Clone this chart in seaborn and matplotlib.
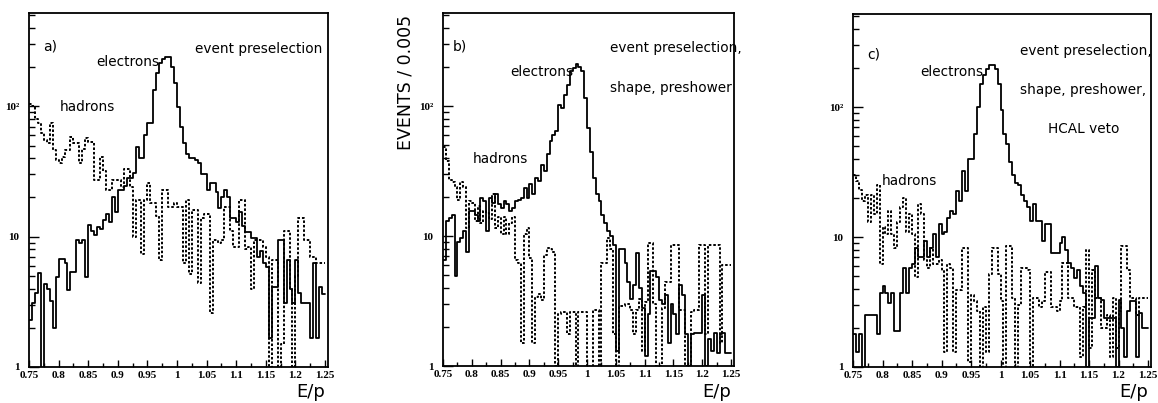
import numpy as np
import matplotlib
matplotlib.use("Agg")
import matplotlib.pyplot as plt
import seaborn as sns
from matplotlib.ticker import FixedLocator, LogLocator, NullFormatter

# E/p histograms, 100 bins of 0.005 between 0.75 and 1.25
ep_lo, ep_hi, n_bins = 0.75, 1.25, 100

ele_a = [2.3, 3.1, 3.7, 5.3, 0, 4.3, 4.0, 3.2, 2.0, 4.9,
         6.7, 6.7, 6.3, 3.9, 5.4, 5.4, 9.4, 9.0, 9.4, 4.9,
         12.3, 11, 10.3, 11.8, 11.5, 13.4, 15, 13, 20, 15.5,
         22.7, 22.7, 24.5, 28, 28, 31, 48.5, 40, 40, 60,
         75, 75, 133, 180, 215, 232, 237, 237, 200, 150,
         98, 70, 52, 43, 40, 40, 38.5, 37, 30, 30,
         23, 26, 26, 22, 16.5, 20, 23, 20, 13.8, 13.8,
         13, 15.5, 12, 10.8, 10.8, 9.7, 9.7, 7, 7.8, 6.3,
         5.8, 1.66, 4.1, 4.1, 9.4, 9.4, 3.1, 6.6, 4, 3.1,
         6.6, 3.7, 3.1, 3.1, 3.1, 1.66, 6.3, 1.66, 4.1, 3.6]
had_a = [105, 100, 80, 74, 62, 55, 52, 74, 46, 39,
         37, 41, 46, 46, 58, 52, 52, 37, 47, 57,
         53, 53, 27, 27, 41, 32, 23, 23, 27, 27,
         27, 24, 33, 33, 24, 10, 19, 19, 7.4, 19,
         26, 18, 18, 14.5, 6.6, 23, 23, 17, 17, 18,
         17, 17, 6.3, 19, 5.2, 16, 16, 4.4, 14, 15,
         15, 2.6, 9.4, 9.4, 9, 9.4, 17, 17, 11, 8.3,
         8.3, 19, 19, 8, 8.3, 4, 9.4, 9.4, 9.4, 8.3,
         7, 1, 6.6, 6.6, 1, 1.5, 11, 11, 4, 1,
         5, 14, 14, 9.4, 9.4, 7, 7, 6.3, 6.3, 6.3]

ele_b = [6.5, 13, 13.8, 14.6, 4.9, 9, 9.7, 10.9, 7.5, 15.5,
         15.5, 14.6, 13, 19.6, 18.6, 10.9, 19.6, 18, 21, 17.5,
         16.5, 18.6, 17.5, 15.5, 16.5, 18.6, 19, 19.6, 23.5, 19.6,
         25, 21, 28, 26.5, 35.5, 31.5, 42.5, 54, 60, 64,
         102, 97, 122, 146, 187, 196, 209, 200, 187, 116,
         68, 44, 28, 21, 18.6, 14.6, 12.5, 11, 10, 8.5,
         1.3, 8, 8, 6.2, 4.4, 3.3, 4.2, 7.4, 4, 2.8,
         1.2, 2.5, 5.4, 5.4, 4.8, 3.2, 3, 3.5, 1.5, 3,
         2.5, 1.75, 4.2, 3.5, 1.75, 1, 1.75, 1.8, 1.8, 1.8,
         3.5, 1, 1.6, 1.3, 1.8, 1.25, 1.75, 1.8, 1.25, 1.25]
had_b = [48, 38, 27, 26, 24, 19, 26, 24, 11.5, 18.6,
         18, 13, 17, 12.5, 15.5, 15, 13.5, 21, 11.5, 14,
         10.3, 14, 10.3, 12.5, 14, 6.5, 6.2, 1.5, 10.3, 11.6,
         6.8, 1.5, 3.4, 3.6, 3.2, 7.2, 8.1, 8, 7.5, 1,
         2.5, 2.6, 2.6, 1.75, 2.6, 2.6, 1, 2.6, 2.6, 2.6,
         0, 1, 2.7, 2.7, 1, 6.2, 6.2, 9.6, 8, 1.75,
         1, 2.9, 2.9, 3, 3, 2.7, 1.75, 2.7, 3.3, 1.3,
         3.1, 8.8, 8.8, 3, 1, 1, 2.8, 4.4, 4.4, 8.6,
         8.5, 8.5, 2.7, 2.7, 1, 1, 2.6, 2.7, 2.7, 8.5,
         8.5, 1.75, 8.5, 8.5, 8.5, 8.5, 1.5, 6, 6, 6]

ele_c = [1.8, 1.3, 1.8, 0, 2.5, 2.5, 2.5, 2.5, 1.8, 3.7,
         4.2, 3.7, 3.1, 3.7, 1.9, 1.9, 3.7, 5.8, 3.7, 5.8,
         6.2, 8.3, 7, 7, 9.3, 7, 8.3, 10.6, 7, 12.6,
         10.6, 11, 14, 16, 15, 22.7, 19, 32, 22.7, 40,
         40, 62, 100, 150, 175, 195, 212, 212, 195, 150,
         95, 62, 52, 38, 30, 26, 25, 21, 19, 17,
         13.4, 18, 13.4, 13.4, 9.4, 12.6, 12.6, 7.5, 7.5, 7.5,
         9, 10, 8, 6.3, 5.8, 4.8, 5.6, 4.2, 3.7, 1,
         2.4, 2.4, 6, 3.4, 3.3, 2.4, 2.4, 2.4, 2.4, 1,
         3.3, 2, 1.2, 2.7, 3.2, 3.2, 1.2, 2.6, 2, 2]
had_c = [30, 27, 23, 19, 21, 13, 21, 15, 25, 6.2,
         12, 10.6, 16, 10.6, 8.3, 13, 17, 20, 11, 15,
         10.6, 4.9, 18, 15, 6.6, 5.8, 8.3, 6.2, 6.2, 6.6,
         5.5, 1.3, 6.2, 5.8, 1.3, 3.9, 3.9, 8.3, 8.3, 1.1,
         3.6, 3.2, 2.7, 0, 2.9, 1.3, 5.2, 8.3, 8.3, 5.2,
         3.2, 0, 8.6, 8.6, 3.4, 0, 3, 5.8, 5.8, 5.6,
         1, 3.4, 3.4, 2.9, 3.2, 5.4, 5.4, 2.9, 2.9, 2.7,
         3.2, 6.3, 6.3, 3.4, 3.4, 2.9, 2.9, 1.2, 2.9, 8,
         1.4, 5.6, 3.4, 3.4, 2, 2, 2.5, 1.2, 3.4, 1.4,
         2.7, 8.6, 8.6, 5.6, 3.4, 3.4, 2.5, 3.4, 3.4, 3.4]

panel_tags = ["a)", "b)", "c)"]
cut_texts = [["event preselection"],
             ["event preselection,", "shape, preshower"],
             ["event preselection,", "shape, preshower,", "HCAL veto"]]
x_ticks = [0.75, 0.8, 0.85, 0.9, 0.95, 1.0, 1.05, 1.1, 1.15, 1.2, 1.25]
x_ticklabels = ["0.75", "0.8", "0.85", "0.9", "0.95", "1", "1.05", "1.1", "1.15", "1.2", "1.25"]
y_ticks = [1, 10, 100]
y_ticklabels = ["1", "10", "10²"]

edges = np.linspace(ep_lo, ep_hi, n_bins + 1)
centers = 0.5 * (edges[:-1] + edges[1:])

sns.set_style("ticks")
plt.rcParams["font.family"] = ["DejaVu Sans"]
plt.rcParams["text.color"] = "black"

fig = plt.figure(figsize=(11.58, 4.03), dpi=100)
W, H = 1158.0, 403.0
# axes boxes in pixels: left, right, top, bottom
boxes = [(29, 328, 13, 367), (443, 734, 13, 366), (853, 1151, 14, 367)]

# label placement (axes fraction) per panel
tag_pos = [(0.047, 0.905), (0.034, 0.905), (0.047, 0.886)]
ele_pos = [(0.225, 0.861), (0.23, 0.833), (0.225, 0.835)]
had_pos = [(0.104, 0.734), (0.103, 0.586), (0.097, 0.528)]
cut_pos = [(0.98, 0.898, "right"), (0.574, 0.90, "left"), (0.56, 0.895, "left")]
cut_step = [0.112, 0.112, 0.111]

datasets = [(ele_a, had_a), (ele_b, had_b), (ele_c, had_c)]

for i, (l, r, t, b) in enumerate(boxes):
    ax = fig.add_axes([l / W, 1 - b / H, (r - l) / W, (b - t) / H])
    ele, had = datasets[i]
    # bins passed as a list: seaborn compares bins to "auto" when weights are used
    sns.histplot(x=centers, weights=ele, bins=edges.tolist(), element="step", fill=False,
                 color="black", linewidth=1.3, ax=ax)
    sns.histplot(x=centers, weights=had, bins=edges.tolist(), element="step", fill=False,
                 color="black", linewidth=1.4, linestyle=(0, (1.3, 1.0)), ax=ax)
    ax.set_yscale("log")
    ax.set_xlim(0.75, 1.255)
    ax.set_ylim(1, 520)
    ax.set_xlabel("")
    ax.set_ylabel("")

    ax.xaxis.set_major_locator(FixedLocator(x_ticks))
    ax.xaxis.set_minor_locator(FixedLocator(np.arange(0.775, 1.25, 0.05)))
    ax.set_xticklabels(x_ticklabels)
    ax.yaxis.set_major_locator(FixedLocator(y_ticks))
    ax.yaxis.set_minor_locator(LogLocator(base=10, subs=np.arange(2, 10)))
    ax.yaxis.set_minor_formatter(NullFormatter())
    ax.set_yticklabels(y_ticklabels)

    ax.tick_params(which="both", direction="in", top=False, right=False, width=1.0,
                   colors="black")
    ax.tick_params(axis="x", which="major", length=5, pad=3)
    ax.tick_params(axis="x", which="minor", length=3)
    ax.tick_params(axis="y", which="major", length=7, pad=7)
    ax.tick_params(axis="y", which="minor", length=4)
    for lab in ax.get_xticklabels() + ax.get_yticklabels():
        lab.set_fontfamily("Liberation Serif")
        lab.set_fontweight("bold")
        lab.set_fontsize(8)
    for sp in ax.spines.values():
        sp.set_linewidth(1.3)
        sp.set_color("black")

    ax.text(*tag_pos[i], panel_tags[i], transform=ax.transAxes, fontsize=10,
            ha="left", va="center")
    ax.text(*ele_pos[i], "electrons", transform=ax.transAxes, fontsize=9.8,
            ha="left", va="center")
    ax.text(*had_pos[i], "hadrons", transform=ax.transAxes, fontsize=9.8,
            ha="left", va="center")
    cx, cy, cha = cut_pos[i]
    for j, line in enumerate(cut_texts[i]):
        if i == 2 and j == 2:
            ax.text(0.654, cy - j * cut_step[i], line, transform=ax.transAxes,
                    fontsize=9.8, ha="left", va="center")
        else:
            ax.text(cx, cy - j * cut_step[i], line, transform=ax.transAxes,
                    fontsize=9.8, ha=cha, va="center")

    fig.text((r - 3) / W, 1 - 392 / H, "E/p", fontsize=13, ha="right", va="center")

fig.text(405 / W, 1 - 82 / H, "EVENTS / 0.005", rotation=90, fontsize=12.5,
         ha="center", va="center")

fig.savefig("out.png", dpi=100)
